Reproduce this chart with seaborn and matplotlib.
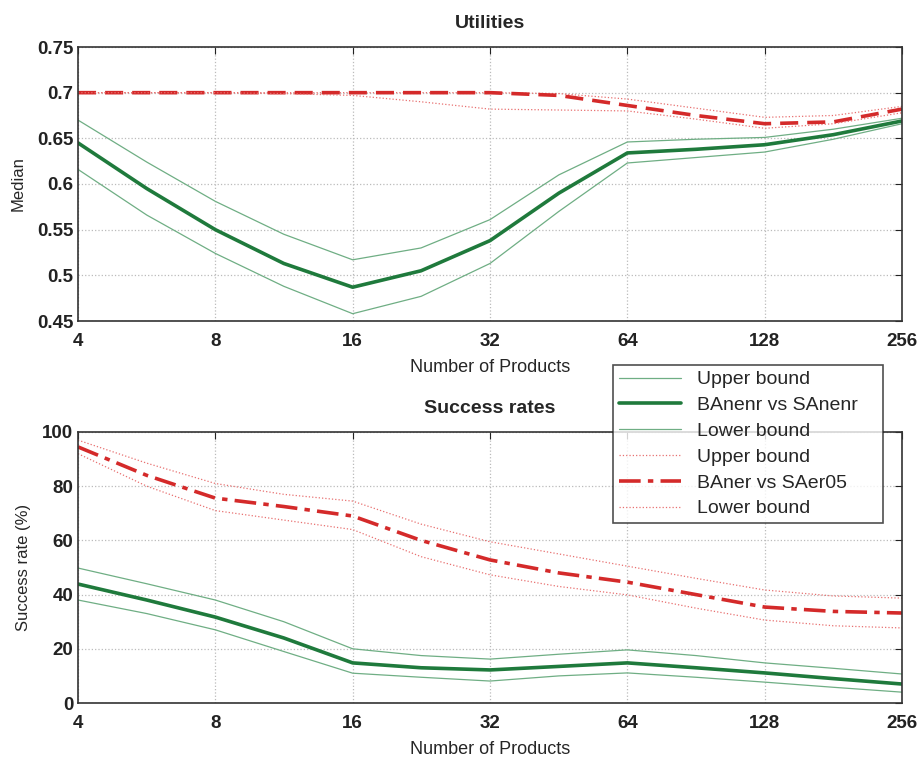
import numpy as np
import pandas as pd
import matplotlib
matplotlib.use("Agg")
import matplotlib.pyplot as plt
import seaborn as sns

# ---- data ----
products = [4, 5.66, 8, 11.3, 16, 22.6, 32, 45.3, 64, 90.5, 128, 181, 256]
tick_vals = [4, 8, 16, 32, 64, 128, 256]
tick_labels = ["4", "8", "16", "32", "64", "128", "256"]

util_green_upper = [0.670, 0.624, 0.581, 0.545, 0.517, 0.530, 0.561, 0.610, 0.646, 0.649, 0.651, 0.660, 0.672]
util_green_med   = [0.645, 0.595, 0.550, 0.513, 0.487, 0.505, 0.538, 0.590, 0.634, 0.638, 0.643, 0.654, 0.669]
util_green_lower = [0.616, 0.566, 0.524, 0.488, 0.458, 0.477, 0.513, 0.570, 0.623, 0.629, 0.635, 0.649, 0.666]
util_red_upper   = [0.700, 0.700, 0.700, 0.700, 0.700, 0.700, 0.700, 0.699, 0.693, 0.683, 0.673, 0.675, 0.685]
util_red_med     = [0.700, 0.700, 0.700, 0.700, 0.700, 0.700, 0.700, 0.697, 0.686, 0.675, 0.666, 0.668, 0.682]
util_red_lower   = [0.700, 0.700, 0.700, 0.699, 0.697, 0.690, 0.682, 0.681, 0.680, 0.671, 0.661, 0.666, 0.678]

succ_green_upper = [49.8, 44.0, 38.0, 30.0, 20.0, 17.5, 16.2, 18.0, 19.6, 17.5, 14.8, 12.8, 10.7]
succ_green_med   = [43.9, 38.0, 31.7, 24.0, 14.8, 13.0, 12.2, 13.5, 14.8, 13.0, 11.1, 9.0, 7.0]
succ_green_lower = [38.0, 33.0, 27.0, 19.0, 11.0, 9.5, 8.1, 10.0, 11.1, 9.5, 7.7, 5.8, 4.0]
succ_red_upper   = [97.0, 88.5, 81.0, 77.0, 74.5, 66.0, 59.5, 55.0, 50.5, 46.0, 41.7, 39.5, 38.7]
succ_red_med     = [94.5, 84.0, 75.6, 72.5, 69.0, 60.0, 52.8, 48.0, 44.6, 40.0, 35.4, 33.8, 33.2]
succ_red_lower   = [92.0, 80.0, 71.0, 67.5, 64.0, 54.0, 47.3, 43.0, 39.9, 35.0, 30.6, 28.5, 27.7]

legend_labels = ["Upper bound", "BAnenr vs SAnenr", "Lower bound",
                 "Upper bound", "BAner vs SAer05", "Lower bound"]

# ---- style ----
sns.set_theme(style="white")
plt.rcParams["font.family"] = ["Liberation Sans Narrow", "Liberation Sans", "DejaVu Sans"]

GREEN = "#1f7a3c"
GREEN_L = "#6fae84"
RED = "#d42a2a"
RED_L = "#e87070"

fig = plt.figure(figsize=(9.21, 7.61), dpi=100)
ax1 = fig.add_axes([78/921, 1 - 321/761, 824/921, 274/761])
ax2 = fig.add_axes([78/921, 1 - 703/761, 824/921, 271/761])


def draw(ax, gu, gm, gl, ru, rm, rl, red_style):
    df = pd.DataFrame({"x": products})
    specs = [
        (gu, GREEN_L, 0.9, "-"),
        (gm, GREEN, 2.6, "-"),
        (gl, GREEN_L, 0.9, "-"),
        (ru, RED_L, 0.9, ":"),
        (rm, RED, 2.6, red_style),
        (rl, RED_L, 0.9, ":"),
    ]
    for vals, c, lw, ls in specs:
        d = df.assign(y=vals)
        sns.lineplot(data=d, x="x", y="y", ax=ax, color=c, lw=lw, linestyle=ls)
    ax.set_xscale("log", base=2)
    ax.set_xlim(4, 256)
    ax.set_xticks(tick_vals)
    ax.set_xticklabels(tick_labels)
    ax.minorticks_off()
    ax.grid(True, linestyle=":", color="#bbbbbb", lw=0.9)
    ax.tick_params(direction="in", top=True, right=True, length=5, width=0.8,
                   labelsize=13.5, colors="#222222")
    ax.tick_params(axis="x", pad=9)
    for lab in ax.get_xticklabels() + ax.get_yticklabels():
        lab.set_fontweight("bold")
    for s in ax.spines.values():
        s.set_color("#333333")
        s.set_linewidth(1.2)
    ax.set_xlabel("Number of Products", fontsize=13, labelpad=6)


draw(ax1, util_green_upper, util_green_med, util_green_lower,
     util_red_upper, util_red_med, util_red_lower, (0, (5, 2.5)))
ax1.set_ylim(0.45, 0.75)
ax1.set_yticks([0.45, 0.5, 0.55, 0.6, 0.65, 0.7, 0.75])
ax1.set_yticklabels(["0.45", "0.5", "0.55", "0.6", "0.65", "0.7", "0.75"])
for lab in ax1.get_yticklabels():
    lab.set_fontweight("bold")
ax1.set_ylabel("Median", fontsize=12, labelpad=8)
ax1.set_title("Utilities", fontsize=14, fontweight="bold", pad=14)

draw(ax2, succ_green_upper, succ_green_med, succ_green_lower,
     succ_red_upper, succ_red_med, succ_red_lower, (0, (6, 2, 1.5, 2)))
ax2.set_ylim(0, 100)
ax2.set_yticks([0, 20, 40, 60, 80, 100])
ax2.set_yticklabels(["0", "20", "40", "60", "80", "100"])
for lab in ax2.get_yticklabels():
    lab.set_fontweight("bold")
ax2.set_ylabel("Success rate (%)", fontsize=12, labelpad=8)
ax2.set_title("Success rates", fontsize=14, fontweight="bold", pad=14)

handles = ax2.get_lines()[:6]
leg = fig.legend(handles, legend_labels, loc="upper left",
                 bbox_to_anchor=(613/921, 1 - 528/761, 270/921, 163/761),
                 mode="expand", borderaxespad=0,
                 frameon=True, fancybox=False, fontsize=14,
                 handlelength=3.2, labelspacing=0.42, borderpad=0.3,
                 handletextpad=0.8)
leg.get_frame().set_edgecolor("#222222")
leg.get_frame().set_linewidth(1.2)
leg.set_zorder(10)

fig.savefig("out.png", dpi=100)
